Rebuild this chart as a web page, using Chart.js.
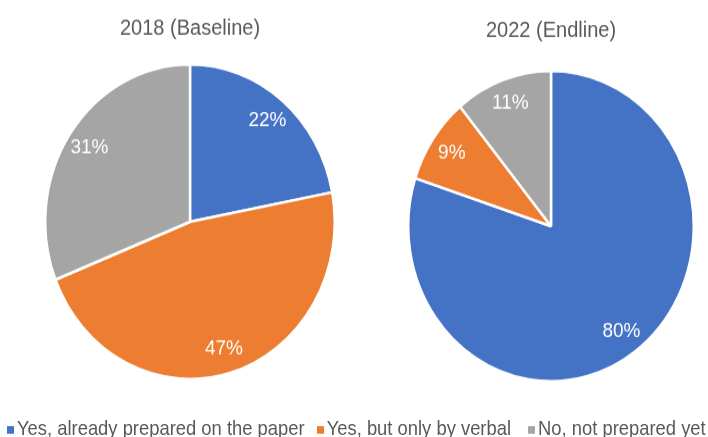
<!DOCTYPE html>
<html>
<head>
<meta charset="utf-8">
<script src="https://cdn.jsdelivr.net/npm/chart.js@4.4.1/dist/chart.umd.min.js"></script>
<style>
  html { overflow: hidden; }
  html, body { margin: 0; padding: 0; background: #fff; height: 437px; }
  #stage {
    position: relative; width: 708px; height: 402px;
    transform: scaleY(1.0871); transform-origin: 0 0;
    font-family: "Liberation Sans", Arial, sans-serif;
  }
  .pie { position: absolute; top: 0; }
  #legend {
    position: absolute; left: 7px; top: 383px;
    display: flex; align-items: center; white-space: nowrap;
    font-size: 18.4px; color: #595959; line-height: 22px;
  }
  .item { display: flex; align-items: center; margin-right: 12px; }
  .item:nth-child(2) { margin-right: 17px; }
  .swatch { width: 7px; height: 7px; margin-right: 3px; margin-top: 3px; }
</style>
</head>
<body>
<div id="stage">
  <div class="pie" style="left:44px"><canvas id="pie2018" width="292" height="350"></canvas></div>
  <div class="pie" style="left:407px"><canvas id="pie2022" width="288" height="352"></canvas></div>
  <div id="legend"></div>
</div>
<script>
// Survey answers: is a plan prepared?
const categories = ['Yes, already prepared on the paper', 'Yes, but only by verbal', 'No, not prepared yet'];
const baseline2018 = [22, 47, 31];
const endline2022 = [80, 9, 11];
const chartTitles = ['2018 (Baseline)', '2022 (Endline)'];
const seriesColors = ['#4472C4', '#ED7D31', '#A5A5A5'];

const FONT = '"Liberation Sans", Arial, sans-serif';
const TEXT = '#595959';

// White percentage labels placed near the outer edge of each slice
const sliceLabels = {
  id: 'sliceLabels',
  afterDatasetsDraw(chart) {
    const ctx = chart.ctx;
    const meta = chart.getDatasetMeta(0);
    const values = chart.data.datasets[0].data;
    ctx.save();
    ctx.font = '19px ' + FONT;
    ctx.fillStyle = '#ffffff';
    ctx.textAlign = 'center';
    ctx.textBaseline = 'middle';
    meta.data.forEach((arc, i) => {
      const p = arc.getProps(['x', 'y', 'startAngle', 'endAngle', 'outerRadius'], true);
      const mid = (p.startAngle + p.endAngle) / 2;
      const r = p.outerRadius * 0.84;
      ctx.fillText(values[i] + '%', p.x + Math.cos(mid) * r, p.y + Math.sin(mid) * r);
    });
    ctx.restore();
  }
};

function makePie(id, title, values, pad) {
  return new Chart(document.getElementById(id), {
    type: 'pie',
    data: {
      labels: categories,
      datasets: [{
        data: values,
        backgroundColor: seriesColors,
        borderColor: '#ffffff',
        borderWidth: 2.5
      }]
    },
    options: {
      responsive: false,
      animation: false,
      devicePixelRatio: 1,
      layout: { padding: 0 },
      plugins: {
        legend: { display: false },
        tooltip: { enabled: false },
        title: {
          display: true,
          text: title,
          color: TEXT,
          font: { family: FONT, size: 20, weight: 'normal' },
          padding: pad
        }
      }
    },
    plugins: [sliceLabels]
  });
}

makePie('pie2018', chartTitles[0], baseline2018, { top: 14, bottom: 20 });
makePie('pie2022', chartTitles[1], endline2022, { top: 16, bottom: 24 });

// Shared legend under both pies
const legend = document.getElementById('legend');
categories.forEach((name, i) => {
  const item = document.createElement('span');
  item.className = 'item';
  const sw = document.createElement('span');
  sw.className = 'swatch';
  sw.style.background = seriesColors[i];
  const label = document.createElement('span');
  label.textContent = name;
  item.appendChild(sw);
  item.appendChild(label);
  legend.appendChild(item);
});
</script>
</body>
</html>
